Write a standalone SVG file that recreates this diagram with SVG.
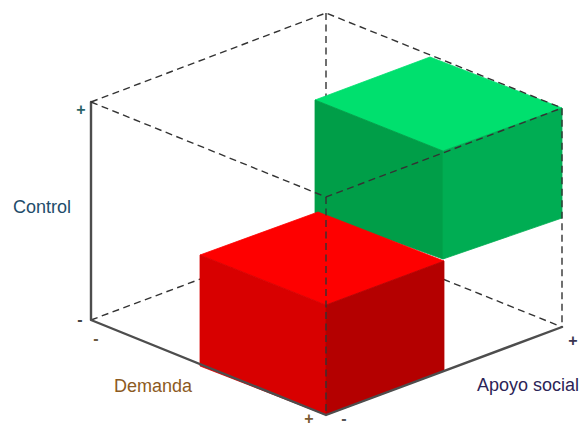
<svg xmlns="http://www.w3.org/2000/svg" width="579" height="428" viewBox="0 0 579 428">
  <style>
    .dash { fill: none; stroke: #333333; stroke-width: 1.4; stroke-dasharray: 7 4.5; }
    .axis { fill: none; stroke: #4d4d4d; stroke-width: 2.4; stroke-linecap: round; stroke-linejoin: round; }
    .lbl { font-family: "Liberation Sans", Arial, sans-serif; font-size: 18px; }
    .sign { font-family: "Liberation Sans", Arial, sans-serif; font-size: 16px; font-weight: bold; text-anchor: middle; }
    .face { stroke-width: 0.8; stroke-linejoin: round; }
  </style>
  <rect width="579" height="428" fill="#ffffff"/>

  <!-- hidden back edges of the frame -->
  <g id="hidden-edges">
    <path class="dash" d="M326,13 L326,232"/>
    <path class="dash" d="M91,320 L326,232"/>
    <path class="dash" d="M326,232 L562,327"/>
  </g>

  <!-- high-support box -->
  <g id="green-box">
    <polygon class="face" fill="#00e06e" stroke="#00e06e" points="315,100 430,57 562,108 443,151"/>
    <polygon class="face" fill="#009e48" stroke="#009e48" points="315,100 443,151 443,259 315,213"/>
    <polygon class="face" fill="#00ad53" stroke="#00ad53" points="443,151 562,108 562,218 443,259"/>
  </g>

  <!-- high-demand box -->
  <g id="red-box">
    <polygon class="face" fill="#fe0000" stroke="#fe0000" points="200,255 318,212 444,261 326,305"/>
    <polygon class="face" fill="#d80000" stroke="#d80000" points="200,255 326,305 326,415 200,366"/>
    <polygon class="face" fill="#b40000" stroke="#b40000" points="326,305 444,261 444,371 326,415"/>
  </g>

  <!-- axes and visible frame edges -->
  <g id="connectors">
    <path class="axis" d="M91,102 L91,320 L326,415 L562,327"/>
    <path class="dash" d="M91,102 L326,13 L562,108 L562,327"/>
    <path class="dash" d="M91,102 L326,197 L562,108"/>
    <path class="dash" d="M326,197 L326,413"/>
  </g>

  <g id="labels">
    <text class="lbl" x="13" y="213" fill="#224c6a">Control</text>
    <text class="lbl" x="114" y="392" fill="#8c5a22">Demanda</text>
    <text class="lbl" x="477" y="391" fill="#2c2457">Apoyo social</text>
    <text class="sign" x="81" y="115" fill="#2a6468">+</text>
    <text class="sign" x="80" y="325" fill="#444444">-</text>
    <text class="sign" x="96" y="344" fill="#6a5a40">-</text>
    <text class="sign" x="309" y="424" fill="#7a5a30">+</text>
    <text class="sign" x="344" y="424" fill="#555555">-</text>
    <text class="sign" x="573" y="346" fill="#3a3450">+</text>
  </g>
</svg>
